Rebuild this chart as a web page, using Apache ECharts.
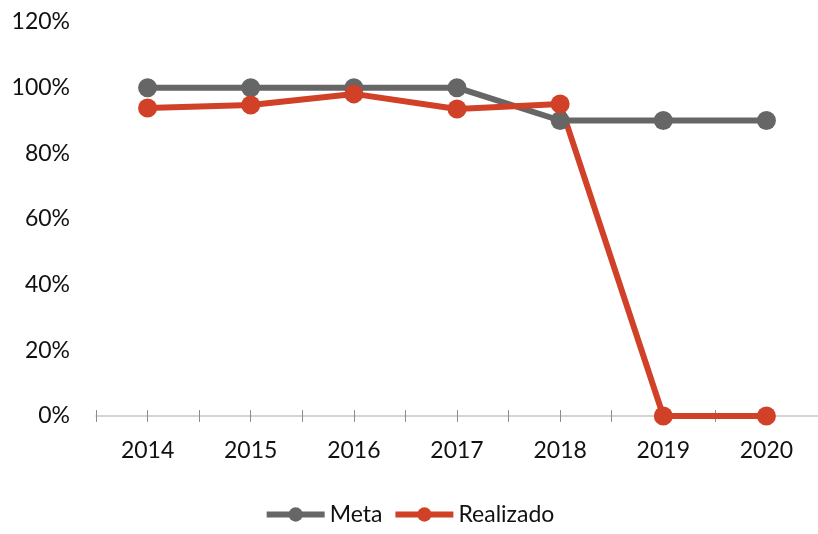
<!DOCTYPE html>
<html>
<head>
<meta charset="utf-8">
<script src="https://cdn.jsdelivr.net/npm/echarts@6/dist/echarts.min.js"></script>
<style>
  html, body { margin: 0; padding: 0; background: #fff; }
  #chart { width: 818px; height: 534px; }
</style>
</head>
<body>
<div id="chart"></div>
<script>
const years = ['2014', '2015', '2016', '2017', '2018', '2019', '2020']
const meta = [100, 100, 100, 100, 90, 90, 90]
const realizado = [93.8, 94.7, 98.1, 93.5, 95.0, 0, 0]
// half-band tick positions (two per category)
const halfTicks = ['', '', '', '', '', '', '', '', '', '', '', '', '', '']

const font = 'Lato'
const chart = echarts.init(document.getElementById('chart'))

chart.setOption({
  animation: false,
  grid: { left: 96, right: 0, top: 22, bottom: 118 },
  legend: {
    bottom: 3,
    left: 'center',
    itemWidth: 58,
    itemHeight: 18,
    itemGap: 10,
    lineStyle: { width: 6 },
    textStyle: { fontFamily: font, fontSize: 23, color: '#111' },
    data: ['Meta', 'Realizado']
  },
  xAxis: [
    {
      type: 'category',
      position: 'bottom',
      data: years,
      boundaryGap: true,
      axisLine: { show: true, lineStyle: { color: '#c8c8c8', width: 1.5 } },
      axisTick: { show: false },
      axisLabel: { fontFamily: font, fontSize: 23, color: '#111', margin: 23 }
    },
    {
      type: 'category',
      position: 'bottom',
      offset: -6,
      data: halfTicks,
      boundaryGap: true,
      axisLine: { show: false },
      axisLabel: { show: false },
      axisTick: { show: true, length: 12, lineStyle: { color: '#8c8c8c', width: 1 } }
    }
  ],
  yAxis: {
    type: 'value',
    min: 0,
    max: 120,
    interval: 20,
    axisLine: { show: false },
    axisTick: { show: false },
    splitLine: { show: false },
    axisLabel: { fontFamily: font, fontSize: 23, color: '#111', margin: 26, formatter: '{value}%' }
  },
  series: [
    {
      name: 'Meta',
      type: 'line',
      data: meta,
      symbol: 'circle',
      symbolSize: 19,
      itemStyle: { color: '#666666' },
      lineStyle: { color: '#666666', width: 6 }
    },
    {
      name: 'Realizado',
      type: 'line',
      data: realizado,
      symbol: 'circle',
      symbolSize: 19,
      itemStyle: { color: '#d04128' },
      lineStyle: { color: '#d04128', width: 6 }
    }
  ]
})
</script>
</body>
</html>
